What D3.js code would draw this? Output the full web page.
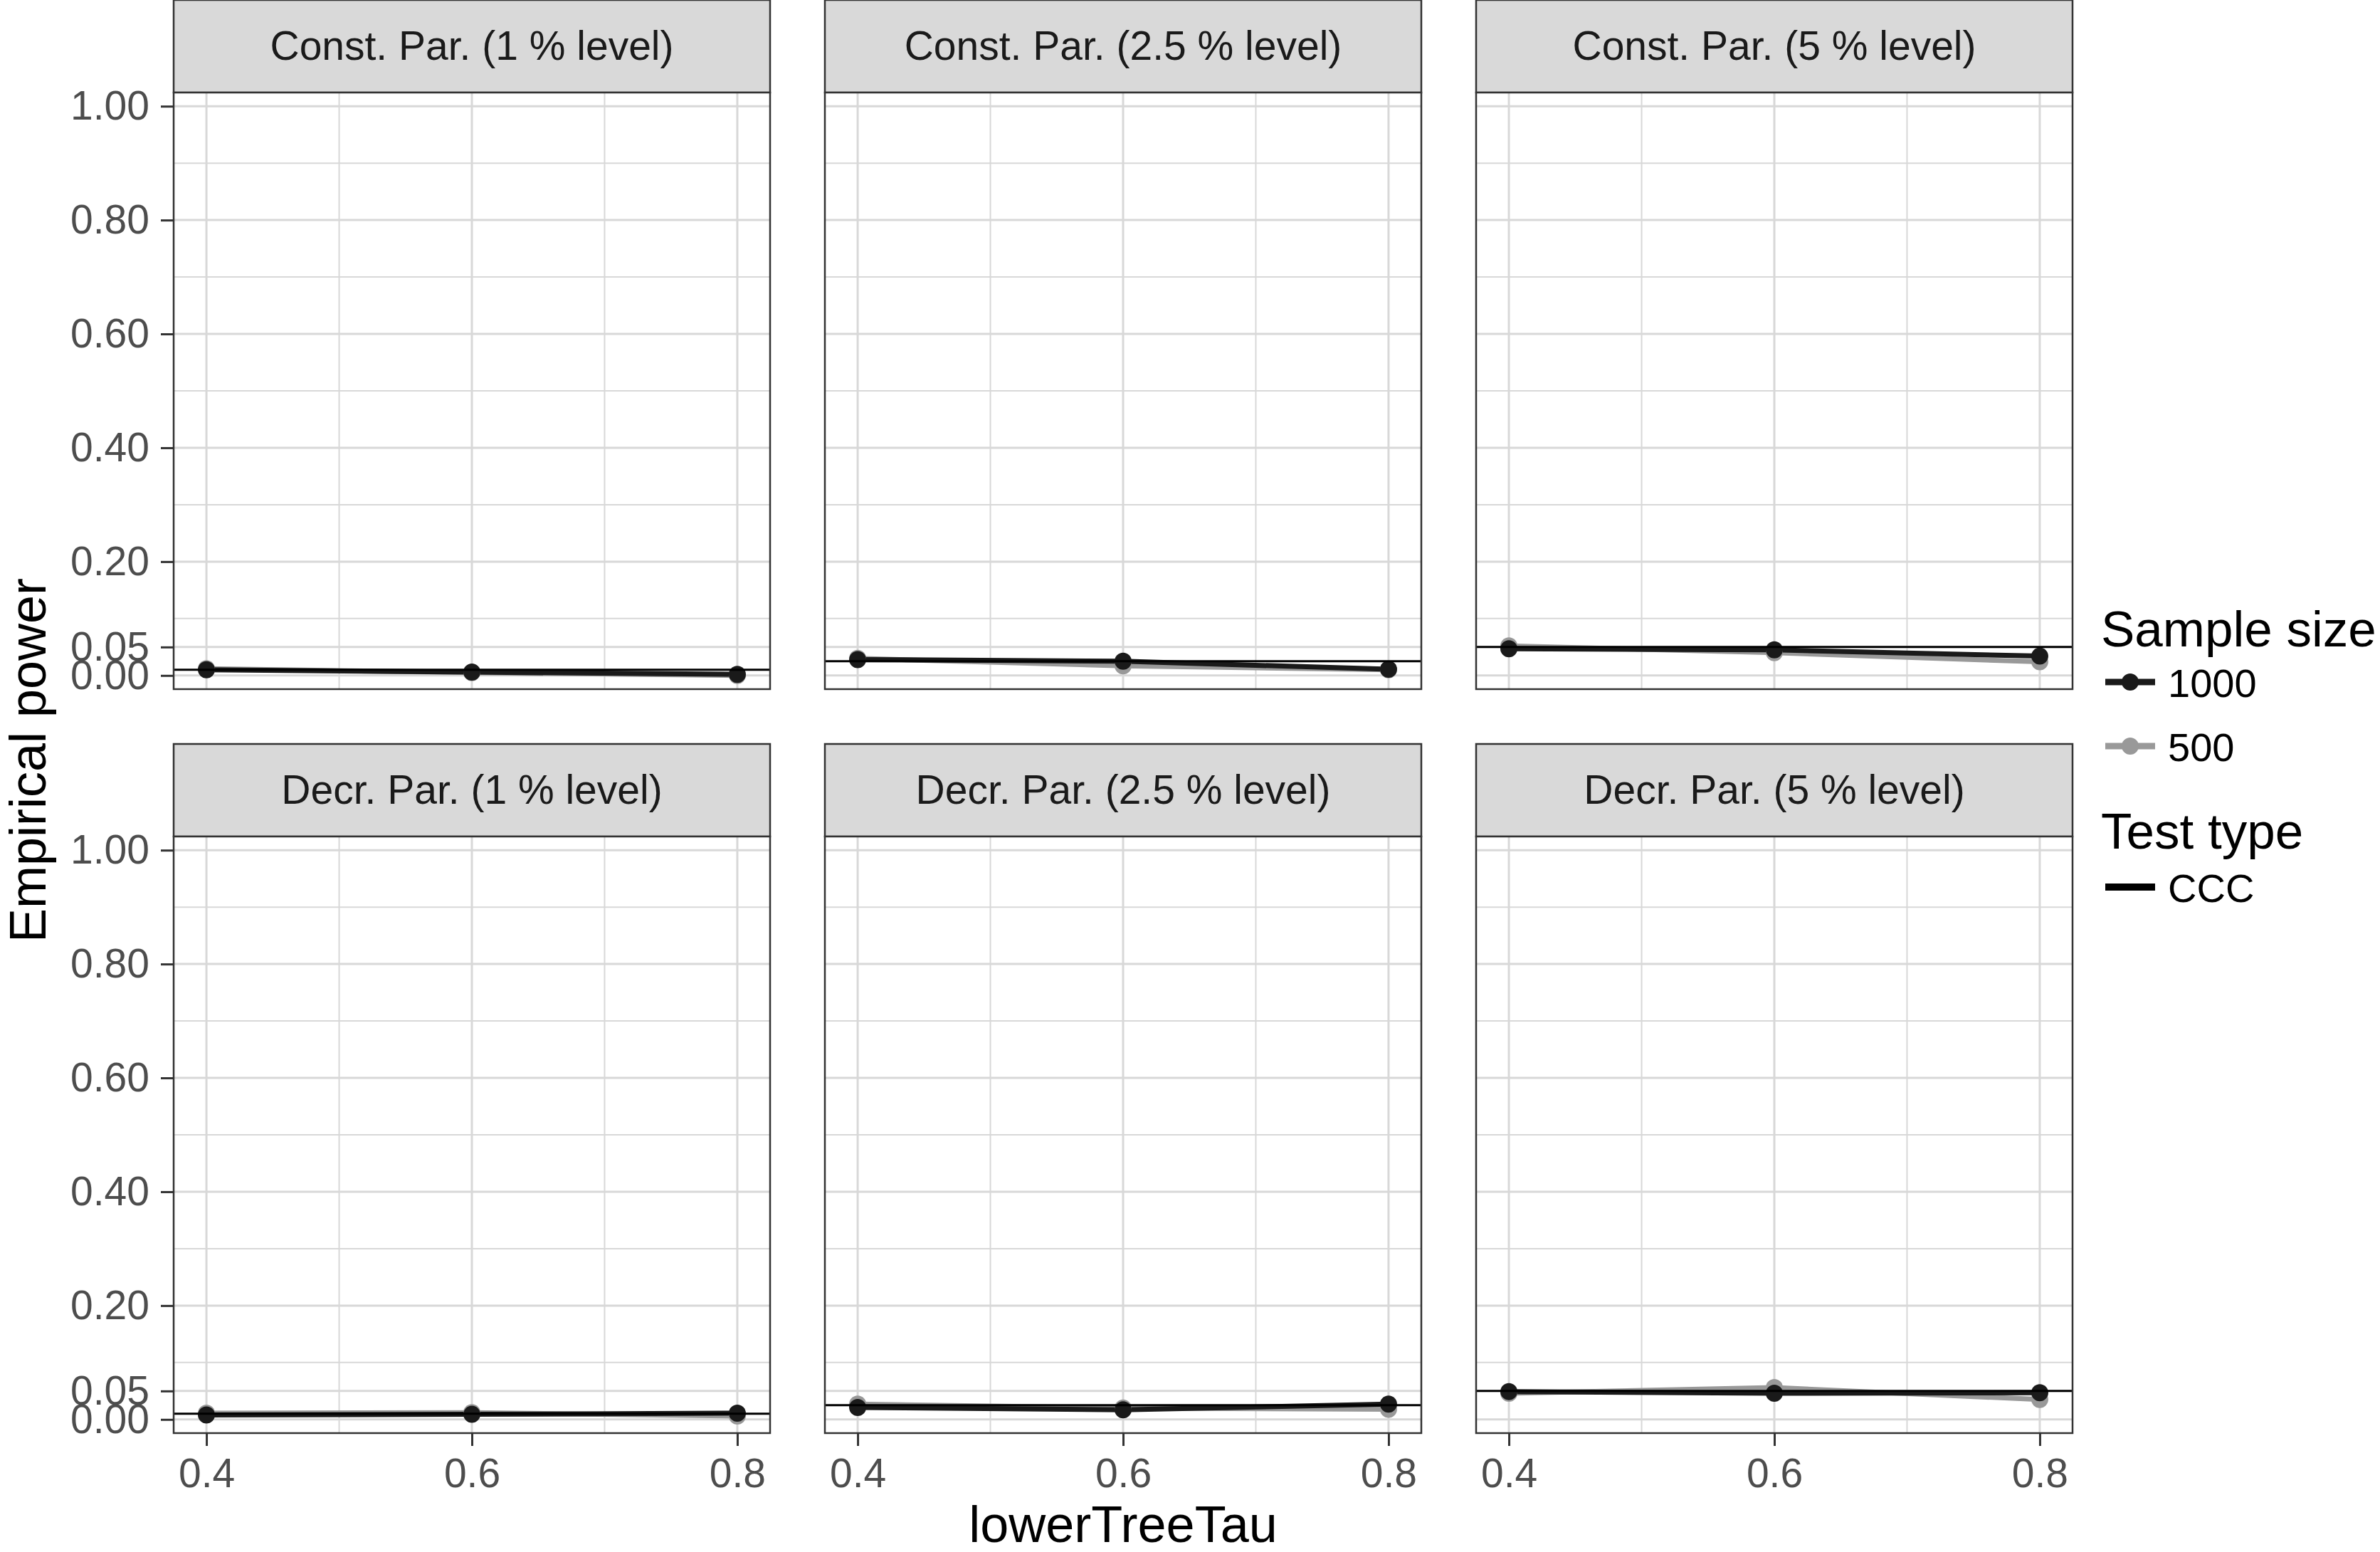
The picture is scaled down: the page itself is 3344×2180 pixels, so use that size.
<!DOCTYPE html>
<html>
<head>
<meta charset="utf-8">
<script src="https://cdn.jsdelivr.net/npm/d3@7"></script>
<style>
  body { margin: 0; background: #ffffff; }
  svg { display: block; font-family: 'Liberation Sans', Arial, sans-serif; }
</style>
</head>
<body>
<svg id="chart"></svg>
<script>
// data
const lowerTreeTau = [0.4, 0.6, 0.8];
const parTypes = ['Const. Par.', 'Decr. Par.'];
const levelLabels = ['1 %', '2.5 %', '5 %'];
const levels = [0.01, 0.025, 0.05];
const sampleSizes = ['1000', '500'];
const testTypes = ['CCC'];

// power per panel, row-major (Const 1, 2.5, 5, Decr 1, 2.5, 5)
const power1000 = [
  [0.010, 0.006, 0.002],
  [0.028, 0.025, 0.011],
  [0.047, 0.045, 0.034],
  [0.008, 0.009, 0.011],
  [0.021, 0.017, 0.027],
  [0.049, 0.046, 0.047]
];
const power500 = [
  [0.012, 0.005, 0.000],
  [0.030, 0.017, 0.010],
  [0.052, 0.040, 0.024],
  [0.011, 0.012, 0.006],
  [0.027, 0.020, 0.018],
  [0.046, 0.056, 0.035]
];

const yBreaks = [0, 0.05, 0.2, 0.4, 0.6, 0.8, 1.0];
const yMinor = [0.1, 0.3, 0.5, 0.7, 0.9];
const xBreaks = [0.4, 0.6, 0.8];
const xMinor = [0.5, 0.7];

const W = 3344, H = 2180;
const svg = d3.select('#chart').attr('width', W).attr('height', H);

const panelW = 838, panelH = 838, stripH = 130;
const panelLefts = [244, 1159, 2074];
const rowTops = [0, 1045];
const colors = { '1000': '#1a1a1a', '500': '#999999' };
const gridCol = '#d8d8d8';
const borderCol = '#333333';

const x = d3.scaleLinear().domain([0.4 - 0.0247, 0.8 + 0.0247]).range([0, panelW]);
const y = d3.scaleLinear().domain([-0.024, 1.024]).range([panelH, 0]);

parTypes.forEach((par, r) => {
  levelLabels.forEach((lev, c) => {
    const idx = r * 3 + c;
    const g = svg.append('g')
      .attr('transform', `translate(${panelLefts[c]},${rowTops[r]})`);

    // strip
    g.append('rect')
      .attr('x', 0).attr('y', 0)
      .attr('width', panelW).attr('height', stripH)
      .style('fill', '#d9d9d9')
      .style('stroke', borderCol)
      .style('stroke-width', 2.5);
    g.append('text')
      .attr('x', panelW / 2)
      .attr('y', stripH / 2 + 19)
      .style('text-anchor', 'middle')
      .style('font-size', '57px')
      .style('fill', '#1a1a1a')
      .text(`${par} (${lev} level)`);

    const p = g.append('g').attr('transform', `translate(0,${stripH})`);
    p.append('rect')
      .attr('width', panelW).attr('height', panelH)
      .style('fill', '#ffffff');

    // grid
    p.append('g').selectAll('line')
      .data(yMinor)
      .enter().append('line')
      .attr('x1', 0).attr('x2', panelW)
      .attr('y1', d => y(d)).attr('y2', d => y(d))
      .style('stroke', gridCol).style('stroke-width', 2);
    p.append('g').selectAll('line')
      .data(xMinor)
      .enter().append('line')
      .attr('y1', 0).attr('y2', panelH)
      .attr('x1', d => x(d)).attr('x2', d => x(d))
      .style('stroke', gridCol).style('stroke-width', 2);
    p.append('g').selectAll('line')
      .data(yBreaks)
      .enter().append('line')
      .attr('x1', 0).attr('x2', panelW)
      .attr('y1', d => y(d)).attr('y2', d => y(d))
      .style('stroke', gridCol).style('stroke-width', 3);
    p.append('g').selectAll('line')
      .data(xBreaks)
      .enter().append('line')
      .attr('y1', 0).attr('y2', panelH)
      .attr('x1', d => x(d)).attr('x2', d => x(d))
      .style('stroke', gridCol).style('stroke-width', 3);

    // series: gray first, black on top
    const series = [
      { key: '500', vals: power500[idx] },
      { key: '1000', vals: power1000[idx] }
    ];
    const line = d3.line()
      .x((d, i) => x(lowerTreeTau[i]))
      .y(d => y(d));
    series.forEach(s => {
      p.append('path')
        .datum(s.vals)
        .attr('fill', 'none')
        .attr('stroke', colors[s.key])
        .attr('stroke-width', 7)
        .attr('stroke-linejoin', 'round')
        .attr('d', line);
    });
    series.forEach(s => {
      p.append('g').selectAll('circle')
        .data(s.vals)
        .enter().append('circle')
        .attr('cx', (d, i) => x(lowerTreeTau[i]))
        .attr('cy', d => y(d))
        .attr('r', 12)
        .style('fill', colors[s.key]);
    });

    // nominal level
    p.append('line')
      .attr('x1', 0).attr('x2', panelW)
      .attr('y1', y(levels[c])).attr('y2', y(levels[c]))
      .style('stroke', '#000000')
      .style('stroke-width', 3);

    p.append('rect')
      .attr('width', panelW).attr('height', panelH)
      .style('fill', 'none')
      .style('stroke', borderCol)
      .style('stroke-width', 2.5);

    // y axis on left column
    if (c === 0) {
      const yAxis = p.append('g')
        .call(d3.axisLeft(y).tickValues(yBreaks).tickFormat(d3.format('.2f')).tickSize(18).tickPadding(16));
      yAxis.select('.domain').remove();
      yAxis.selectAll('line').style('stroke', borderCol).style('stroke-width', 3);
      yAxis.selectAll('text')
        .style('font-size', '57px')
        .style('fill', '#4d4d4d')
        .style('font-family', "'Liberation Sans', Arial, sans-serif");
    }
    // x axis on bottom row
    if (r === 1) {
      const xAxis = p.append('g')
        .attr('transform', `translate(0,${panelH})`)
        .call(d3.axisBottom(x).tickValues(xBreaks).tickFormat(d3.format('.1f')).tickSize(18).tickPadding(18));
      xAxis.select('.domain').remove();
      xAxis.selectAll('line').style('stroke', borderCol).style('stroke-width', 3);
      xAxis.selectAll('text')
        .style('font-size', '57px')
        .style('fill', '#4d4d4d')
        .style('font-family', "'Liberation Sans', Arial, sans-serif");
    }
  });
});

// axis titles
svg.append('text')
  .attr('x', panelLefts[1] + panelW / 2)
  .attr('y', 2166)
  .style('text-anchor', 'middle')
  .style('font-size', '72px')
  .style('fill', '#000000')
  .text('lowerTreeTau');
svg.append('text')
  .attr('transform', 'translate(64,1068) rotate(-90)')
  .style('text-anchor', 'middle')
  .style('font-size', '72px')
  .style('fill', '#000000')
  .text('Empirical power');

// legend
const lg = svg.append('g');
lg.append('text')
  .attr('x', 2952).attr('y', 908)
  .style('font-size', '71px')
  .text('Sample size');
const keyYs = [958, 1048];
sampleSizes.forEach((s, i) => {
  lg.append('line')
    .attr('x1', 2958).attr('x2', 3028)
    .attr('y1', keyYs[i]).attr('y2', keyYs[i])
    .style('stroke', colors[s])
    .style('stroke-width', 9);
  lg.append('circle')
    .attr('cx', 2993).attr('cy', keyYs[i])
    .attr('r', 12)
    .style('fill', colors[s]);
  lg.append('text')
    .attr('x', 3046).attr('y', keyYs[i] + 21)
    .style('font-size', '56px')
    .text(s);
});
lg.append('text')
  .attr('x', 2952).attr('y', 1192)
  .style('font-size', '71px')
  .text('Test type');
testTypes.forEach((t, i) => {
  const ky = 1246 + i * 90;
  lg.append('line')
    .attr('x1', 2958).attr('x2', 3028)
    .attr('y1', ky).attr('y2', ky)
    .style('stroke', '#000000')
    .style('stroke-width', 10);
  lg.append('text')
    .attr('x', 3046).attr('y', ky + 21)
    .style('font-size', '56px')
    .text(t);
});
</script>
</body>
</html>
